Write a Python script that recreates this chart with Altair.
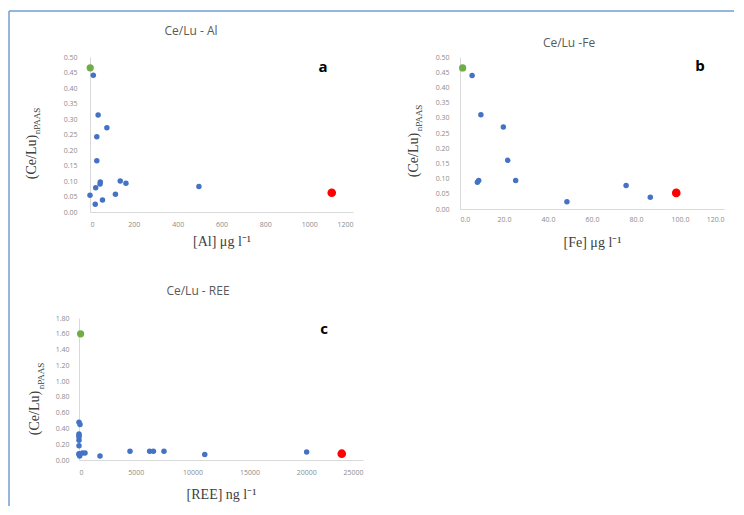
import altair as alt
import pandas as pd

# ---------------- data ----------------
# panel a: (Ce/Lu)nPAAS vs [Al] µg/l
al_x = [1, 15, 37, 77, 31, 31, 138, 164, 47, 46, 26, 497, 0, 116, 57, 24, 1103]
al_y = [0.465, 0.441, 0.313, 0.272, 0.243, 0.165, 0.100, 0.093, 0.097, 0.090,
        0.078, 0.082, 0.054, 0.057, 0.039, 0.025, 0.062]
al_kind = ["first"] + ["sample"] * 15 + ["last"]

# panel b: (Ce/Lu)nPAAS vs [Fe] µg/l
fe_x = [1.2, 5.5, 9.5, 19.7, 21.7, 25.3, 8.5, 7.9, 48.6, 75.5, 86.5, 98.3]
fe_y = [0.464, 0.439, 0.310, 0.270, 0.160, 0.094, 0.094, 0.088, 0.024, 0.077, 0.039, 0.053]
fe_kind = ["first"] + ["sample"] * 10 + ["last"]

# panel c: (Ce/Lu)nPAAS vs [REE] ng/l
ree_x = [140, 0, 90, 0, 0, 0, 0, 0, 0, 0, 60, 300, 530, 1850, 4490, 6220, 6550,
         7480, 11070, 20040, 23130]
ree_y = [1.60, 0.48, 0.45, 0.33, 0.31, 0.29, 0.25, 0.18, 0.08, 0.07, 0.05, 0.09,
         0.09, 0.05, 0.11, 0.11, 0.11, 0.11, 0.07, 0.10, 0.08]
ree_kind = ["first"] + ["sample"] * 19 + ["last"]

# ticks
al_ticks = [0, 200, 400, 600, 800, 1000, 1200]
fe_ticks = [0, 20, 40, 60, 80, 100, 120]
ree_ticks = [0, 5000, 10000, 15000, 20000, 25000]
y05_ticks = [0, 0.05, 0.10, 0.15, 0.20, 0.25, 0.30, 0.35, 0.40, 0.45, 0.50]
y18_ticks = [0, 0.2, 0.4, 0.6, 0.8, 1.0, 1.2, 1.4, 1.6, 1.8]

titles = ["Ce/Lu - Al", "Ce/Lu -Fe", "Ce/Lu - REE"]
letters = ["a", "b", "c"]
x_titles = ["[Al] μg l⁻¹", "[Fe] μg l⁻¹", "[REE] ng l⁻¹"]
y_main = "(Ce/Lu)"
y_sub = "nPAAS"

kinds = ["sample", "first", "last"]
colors = ["#4472C4", "#70AD47", "#FF0000"]
sizes = [30, 75, 75]

SANS = "Open Sans"
SERIF = "Liberation Serif"


def frame_df(k):
    return pd.DataFrame({"k": [k]})


def txt(s, x, y, size, color, font, weight="normal", angle=0):
    return alt.Chart(pd.DataFrame({"t": [s]})).mark_text(
        font=font, fontSize=size, color=color, fontWeight=weight, angle=angle,
        align="center", baseline="middle"
    ).encode(text="t:N", x=alt.value(x), y=alt.value(y))


def panel(xs, ys, ks, xdom, xticks, xfmt, xrange, ydom, yticks, w, h,
          yoffset, ylabpad, xlabpad, xtitlepad, xtitle, title, title_pos,
          letter, letter_pos, ymain_pos, ysub_pos):
    df = pd.DataFrame({"x": xs, "y": ys, "kind": ks})
    df["order"] = df["kind"].map({"sample": 0, "first": 1, "last": 2})
    xscale = alt.Scale(domain=xdom, nice=False, zero=False)
    if xrange is not None:
        xscale = alt.Scale(domain=xdom, nice=False, zero=False, range=xrange)
    pts = alt.Chart(df).mark_circle(opacity=1).encode(
        x=alt.X("x:Q", scale=xscale,
                axis=alt.Axis(values=xticks, format=xfmt, title=xtitle,
                              labelPadding=xlabpad, titlePadding=xtitlepad)),
        y=alt.Y("y:Q", scale=alt.Scale(domain=ydom, nice=False),
                axis=alt.Axis(values=yticks, format=".2f", title=None,
                              offset=yoffset, labelPadding=ylabpad)),
        color=alt.Color("kind:N", scale=alt.Scale(domain=kinds, range=colors), legend=None),
        size=alt.Size("kind:N", scale=alt.Scale(domain=kinds, range=sizes), legend=None),
        order=alt.Order("order:Q"),
    )
    layers = [pts,
              txt(title, title_pos[0], title_pos[1], 12, "#595959", SANS),
              txt(letter, letter_pos[0], letter_pos[1], 15, "#000000", SANS, "bold"),
              txt(y_main, ymain_pos[0], ymain_pos[1], 14, "#404040", SERIF, angle=270),
              txt(y_sub, ysub_pos[0], ysub_pos[1], 9, "#404040", SERIF, angle=270)]
    return layers, w, h


la, wa, ha = panel(al_x, al_y, al_kind, [0, 1200], al_ticks, "d", [11, 274],
                   [0, 0.5], y05_ticks, 274, 155, -11, 13, 8, 7, x_titles[0],
                   titles[0], (112, -26), letters[0], (244, 10),
                   (-47, 100), (-42, 64))

# page frame (light blue border round the figure), drawn in panel a's layer
frame_top = alt.Chart(frame_df("top")).mark_rule(color="#6f9fd2", strokeWidth=1.5).encode(
    x=alt.value(-70), x2=alt.value(655), y=alt.value(-46))
frame_left = alt.Chart(frame_df("left")).mark_rule(color="#6f9fd2", strokeWidth=1.5).encode(
    x=alt.value(-70), y=alt.value(-46), y2=alt.value(449))

chart_a = alt.layer(frame_top, frame_left, *la).properties(width=wa, height=ha)

lb, wb, hb = panel(fe_x, fe_y, fe_kind, [0, 120], fe_ticks, ".1f", None,
                   [0, 0.5], y05_ticks, 264, 152, 0, 11, 6, 13, x_titles[1],
                   titles[1], (109, -14), letters[1], (240, 9),
                   (-46, 98), (-41, 61))
chart_b = alt.layer(*lb).properties(width=wb, height=hb)

lc, wc, hc = panel(ree_x, ree_y, ree_kind, [0, 25000], ree_ticks, "d", None,
                   [0, 1.8], y18_ticks, 284, 142, 0, 10, 8, 12, x_titles[2],
                   titles[2], (119, -27), letters[2], (245, 11),
                   (-44, 95), (-38, 58))
chart_c = alt.layer(*lc).properties(width=wc, height=hc)

chart = alt.ConcatChart(
    concat=[chart_a, chart_b, chart_c],
    columns=2,
    bounds="flush",
    spacing=alt.RowColnumber(row=106, column=97),
).properties(
    padding={"left": 0, "top": 2, "right": 0, "bottom": 0}
).configure_view(
    stroke=None
).configure_axis(
    grid=False, ticks=False, domainColor="#d9d9d9", domainWidth=1,
    labelColor="#8c8c8c", labelFont=SANS, labelFontSize=7,
    titleFont=SERIF, titleFontSize=14, titleColor="#404040", titleFontWeight="normal",
)

chart.save("out.html", embed_options={"renderer": "svg", "actions": False})
